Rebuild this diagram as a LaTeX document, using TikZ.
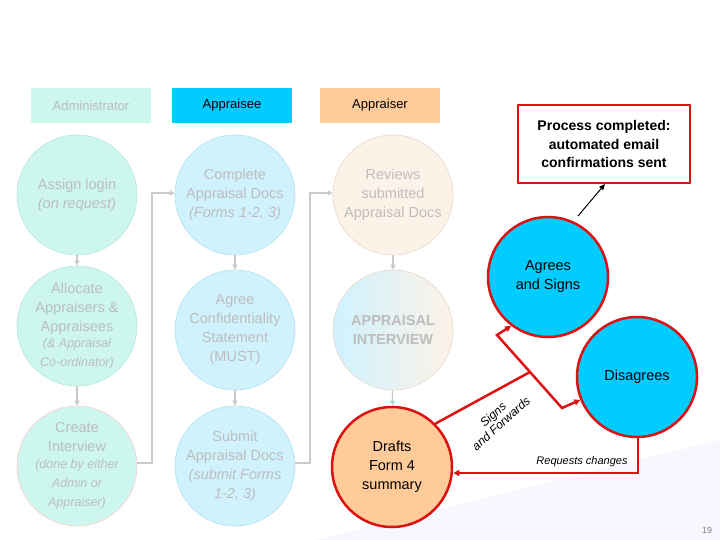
\documentclass[tikz,border=0pt]{standalone}
\usepackage{fontspec}
\setmainfont{Liberation Sans}
\usetikzlibrary{arrows.meta}
\definecolor{admf}{HTML}{CCF6EE}
\definecolor{admd}{HTML}{B5E6DA}
\definecolor{apef}{HTML}{CFF2FD}
\definecolor{aped}{HTML}{B0E0F0}
\definecolor{aprf}{HTML}{FDF2E8}
\definecolor{aprd}{HTML}{E8D8C8}
\definecolor{ftxt}{HTML}{BDBDBD}
\definecolor{cyanb}{HTML}{00CCFF}
\definecolor{peach}{HTML}{FFCC99}
\definecolor{rd}{HTML}{DD1111}
\newcommand{\smi}{\fontsize{12.5}{14}\selectfont\itshape}
\begin{document}
\begin{tikzpicture}[x=1pt,y=-1pt,
 faded/.style={circle,minimum size=120pt,inner sep=0pt,align=center,text=ftxt,font=\fontsize{14.5}{19}\selectfont,line width=0.6pt},
 adm/.style={faded,fill=admf,draw=admd},
 ape/.style={faded,fill=apef,draw=aped},
 apr/.style={faded,fill=aprf,draw=aprd},
 hd/.style={minimum width=120pt,minimum height=35pt,inner sep=0pt,font=\fontsize{13}{15}\selectfont},
 gl/.style={draw=ftxt!80,line width=1.2pt},
 ga/.style={gl,-{Triangle[length=5pt,width=5pt]}},
 hot/.style={circle,minimum size=120pt,inner sep=0pt,align=center,draw=rd,line width=2.5pt,font=\fontsize{14.5}{19}\selectfont},
 ra/.style={draw=rd,line width=2.5pt,-{Triangle[length=6pt,width=6pt]}}]
\useasboundingbox (0,0) rectangle (720,540);
\fill[blue!3] (315,540) -- (720,440) -- (720,540) -- cycle;
\node[hd,fill=admf,text=ftxt] (h1) at (91,105.5) {Administrator};
\node[hd,fill=cyanb] (h2) at (232,105.5) {Appraisee};
\node[hd,fill=peach] (h3) at (380,105.5) {Appraiser};
\node[adm] (a1) at (77,195) {Assign login\\\textit{(on request)}};
\node[adm] (a2) at (77,326) {Allocate\\Appraisers \&\\Appraisees\\[-3pt]\smi (\& Appraisal\\\smi Co-ordinator)};
\node[adm,draw=red!20] (a3) at (77,466) {Create\\Interview\\[-2pt]\smi (done by either\\\smi Admin or\\\smi Appraiser)};
\node[ape] (b1) at (235,195) {Complete\\Appraisal Docs\\\textit{(Forms 1-2, 3)}};
\node[ape] (b2) at (235,330) {Agree\\Confidentiality\\Statement\\(MUST)};
\node[ape] (b3) at (235,466) {Submit\\Appraisal Docs\\\textit{(submit Forms}\\\textit{1-2, 3)}};
\node[apr] (c1) at (393,195) {Reviews\\submitted\\Appraisal Docs};
\shade[left color=apef,right color=aprf] (393,330) circle (60pt);
\node[faded,draw=aprd,font=\fontsize{14.5}{19}\selectfont\bfseries] (c2) at (393,330) {APPRAISAL\\INTERVIEW};
\node[hot,fill=peach] (d) at (392,467) {Drafts\\Form 4\\summary};
\node[hot,fill=cyanb] (ag) at (548,277) {Agrees\\and Signs};
\node[hot,fill=cyanb] (dis) at (637,377) {Disagrees};
\node[draw=rd,line width=2pt,fill=white,minimum width=172pt,minimum height=78pt,align=center,font=\fontsize{14}{18.5}\selectfont\bfseries] (pc) at (604,144) {Process completed:\\automated email\\confirmations sent};
\coordinate (bk) at (578,216);
\draw[line width=1pt,-{Triangle[length=6pt,width=5pt]}] (bk) -- (pc.south -| 605,0);
% gray connectors
\draw[ga] (a1) -- (a2);
\draw[ga] (b1) -- (b2);
\draw[ga] (c1) -- (c2);
\draw[ga] (b2) -- (b3);
\draw[ga] (c2) -- (d);
\draw[ga] (a2) -- (a3);
\draw[ga] (a3.east |- 0,463) -- (152,463) -- (152,193) -- (b1.west |- 0,193);
\draw[ga] (b3.east |- 0,463) -- (310,463) -- (310,193) -- (c1.west |- 0,193);
% red connectors
\coordinate (j) at (530,372);
\coordinate (k1) at (497,335);
\coordinate (k2) at (562,408);
\coordinate (k3) at (638,473);
\draw[draw=rd,line width=2.5pt] (d.45) -- (j);
\draw[ra] (j) -- (k1) -- (ag.233);
\draw[ra] (j) -- (k2) -- (dis.202);
\draw[ra] (dis.south -| k3) -- (k3) -- (d.east |- k3);
\node[rotate=42,align=center,font=\fontsize{12}{12}\selectfont\itshape] (sf) at (497,419) {Signs\\and Forwards};
\node[font=\fontsize{11}{13}\selectfont\itshape,anchor=south] (rc) at (582,470) {Requests changes};
\node[font=\fontsize{9}{10}\selectfont,text=gray] (pg) at (707,530) {19};
\end{tikzpicture}
\end{document}
